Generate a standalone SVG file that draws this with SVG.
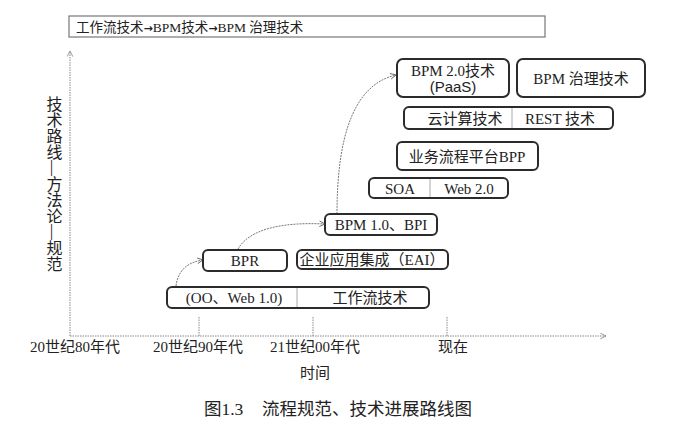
<svg xmlns="http://www.w3.org/2000/svg" width="673" height="435" viewBox="0 0 673 435">
<style>
text{font-family:"Liberation Serif","Noto Sans CJK SC",serif;fill:#222;}
.lbl{font-size:15px;text-anchor:middle;}
.ax{font-size:15px;}
.box{fill:#fff;stroke:#2b2b2b;stroke-width:2;}
.div{stroke:#aaa;stroke-width:1;}
.axis{stroke:#888;stroke-width:1;stroke-dasharray:1.5 1;fill:none;}
.conn{stroke:#777;stroke-width:1;stroke-dasharray:2 1;fill:none;marker-end:url(#arr);}
.arw{font-family:"DejaVu Sans",sans-serif;font-weight:bold;font-size:11px;}
</style>
<defs>
<marker id="arr" viewBox="0 0 10 10" refX="9" refY="5" markerWidth="7" markerHeight="7" orient="auto" markerUnits="userSpaceOnUse">
<path d="M1,1 L9,5 L1,9" fill="none" stroke="#666" stroke-width="1.3"/>
</marker>
<marker id="axarr" viewBox="0 0 10 10" refX="9" refY="5" markerWidth="7" markerHeight="7" orient="auto" markerUnits="userSpaceOnUse">
<path d="M1,1 L9,5 L1,9" fill="none" stroke="#888" stroke-width="1.2"/>
</marker>
</defs>
<rect width="673" height="435" fill="#fff"/>

<g id="title-bar">
<rect x="69" y="16" width="476" height="21" fill="none" stroke="#777" stroke-width="1.2"/>
<text x="76" y="31.5" font-size="13.5">工作流技术<tspan class="arw">→</tspan>BPM技术<tspan class="arw">→</tspan>BPM 治理技术</text>
</g>

<g id="axes">
<line class="axis" x1="70" y1="336" x2="70" y2="51" marker-end="url(#axarr)"/>
<line class="axis" x1="70" y1="336" x2="606" y2="336" marker-end="url(#axarr)"/>
<line class="axis" x1="199" y1="317" x2="199" y2="336"/>
<line class="axis" x1="313" y1="317" x2="313" y2="336"/>
<line class="axis" x1="447" y1="317" x2="447" y2="336"/>
<text class="ax" x="30" y="352">20世纪80年代</text>
<text class="ax" x="153" y="352">20世纪90年代</text>
<text class="ax" x="270" y="352">21世纪00年代</text>
<text class="ax" x="438" y="352">现在</text>
<text class="ax" x="300" y="378">时间</text>
<text x="53" y="96" font-size="16" writing-mode="tb" style="writing-mode:vertical-rl">技术路线—方法论—规范</text>
</g>

<g id="connectors">
<path class="conn" d="M176,286 C178,270 188,262 203,260"/>
<path class="conn" d="M238,249 C250,228 285,222 325,224"/>
<path class="conn" d="M337,214 C337,140 352,85 396,75"/>
</g>

<g id="node-oo-workflow">
<rect class="box" x="167" y="287" width="262" height="21" rx="5"/>
<line class="div" x1="297" y1="288" x2="297" y2="307"/>
<text class="lbl" x="234" y="303">(OO、Web 1.0)</text>
<text class="lbl" x="370" y="303">工作流技术</text>
</g>

<g id="node-bpr">
<rect class="box" x="203" y="250" width="84" height="21" rx="5"/>
<text class="lbl" x="245" y="266">BPR</text>
</g>

<g id="node-eai">
<rect class="box" x="297" y="250" width="151" height="19" rx="5"/>
<text class="lbl" x="372" y="265">企业应用集成（EAI）</text>
</g>

<g id="node-bpm1">
<rect class="box" x="325" y="214" width="112" height="21" rx="5"/>
<text class="lbl" x="381" y="230">BPM 1.0、BPI</text>
</g>

<g id="node-soa-web2">
<rect class="box" x="369" y="178" width="139" height="20" rx="5"/>
<line class="div" x1="430" y1="179" x2="430" y2="197"/>
<text class="lbl" x="400" y="194">SOA</text>
<text class="lbl" x="469" y="194">Web 2.0</text>
</g>

<g id="node-bpp">
<rect class="box" x="397" y="142" width="141" height="28" rx="5"/>
<text class="lbl" x="467" y="162">业务流程平台BPP</text>
</g>

<g id="node-cloud-rest">
<rect class="box" x="404" y="107" width="209" height="22" rx="5"/>
<line class="div" x1="512" y1="108" x2="512" y2="128"/>
<text class="lbl" x="465" y="124">云计算技术</text>
<text class="lbl" x="560" y="124">REST 技术</text>
</g>

<g id="node-bpm2">
<rect class="box" x="397" y="59" width="112" height="38" rx="6"/>
<text class="lbl" x="453" y="76">BPM 2.0技术</text>
<text class="lbl" x="453" y="92" style="font-family:'Liberation Sans',sans-serif">(PaaS)</text>
</g>

<g id="node-bpm-gov">
<rect class="box" x="517" y="59" width="128" height="38" rx="6"/>
<text class="lbl" x="581" y="84">BPM 治理技术</text>
</g>

<g id="caption">
<text x="204" y="415" font-size="17.5">图1.3</text>
<text x="262" y="415" font-size="17.5">流程规范、技术进展路线图</text>
</g>
</svg>
